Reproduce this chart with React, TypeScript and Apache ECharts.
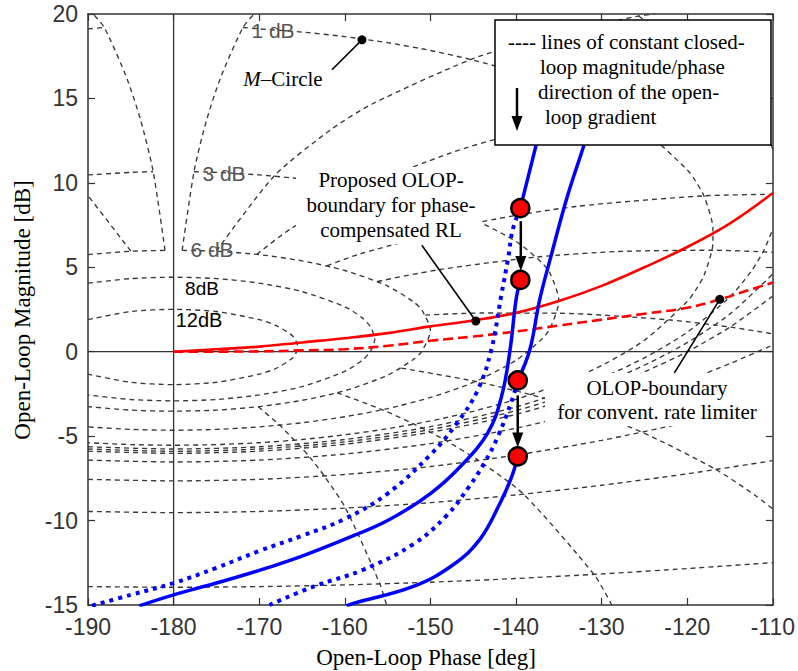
import React, { useEffect, useRef } from "react";
import * as echarts from "echarts";

// ---------- axes ----------
const phaseMin = -190, phaseMax = -110, phaseStep = 10;
const magMin = -15, magMax = 20, magStep = 5;

// ---------- closed-loop magnitude contours [phase deg, dB] ----------
const mag12dB = [[-190,1.90],[-185,2.38],[-180,2.51],[-175,2.38],[-170,1.90],[-168,1.54],[-166,0.89],[-165.5,0.29],[-166,-0.32],[-168,-0.98],[-170,-1.33],[-175,-1.81],[-180,-1.95],[-185,-1.81],[-190,-1.33]];
const mag8dB = [[-190,4.06],[-185,4.33],[-180,4.41],[-175,4.33],[-170,4.06],[-165,3.56],[-160,2.66],[-158,2.02],[-157,1.47],[-156.5,0.75],[-157,0.03],[-158,-0.52],[-160,-1.16],[-165,-2.07],[-170,-2.56],[-175,-2.83],[-180,-2.91],[-185,-2.83],[-190,-2.56]];
const mag6dBLeft = [[-190,5.75],[-185,5.95],[-181,6.0]];
const mag6dBRight = [[-179,6.0],[-175,5.95],[-170,5.75],[-165,5.38],[-160,4.81],[-155,3.89],[-152,2.96],[-151,2.47],[-150,1.25],[-151,0.03],[-152,-0.46],[-155,-1.39],[-160,-2.31],[-165,-2.88],[-170,-3.25],[-175,-3.46],[-180,-3.52],[-185,-3.46],[-190,-3.25]];
const mag3dBLeft = [[-190,10.47],[-185,10.62],[-182.4,10.66]];
const mag3dBRight = [[-177.6,10.66],[-175,10.62],[-170,10.47],[-165,10.23],[-160,9.87],[-155,9.39],[-150,8.73],[-145,7.84],[-140,6.53],[-137,5.28],[-136,4.62],[-135,3.01],[-136,1.40],[-137,0.74],[-140,-0.51],[-145,-1.82],[-150,-2.71],[-155,-3.37],[-160,-3.85],[-165,-4.21],[-170,-4.45],[-175,-4.60],[-180,-4.65],[-185,-4.60],[-190,-4.45]];
const mag1dBLeft = [[-190,19.12],[-188.1,19.2]];
const mag1dBRight = [[-171.9,19.2],[-170,19.12],[-165,18.93],[-160,18.66],[-155,18.30],[-150,17.84],[-145,17.27],[-140,16.56],[-135,15.67],[-130,14.55],[-125,13.06],[-120,10.77],[-119,10.08],[-118,9.17],[-117,7.28],[-117,6.46],[-118,4.57],[-119,3.66],[-120,2.97],[-125,0.68],[-130,-0.82],[-135,-1.94],[-140,-2.82],[-145,-3.53],[-150,-4.10],[-155,-4.56],[-160,-4.92],[-165,-5.20],[-170,-5.39],[-175,-5.50],[-180,-5.54],[-185,-5.50],[-190,-5.39]];
const mag05dBLower = [[-190,-5.63],[-180,-5.76],[-170,-5.63],[-160,-5.20],[-150,-4.44],[-140,-3.27],[-130,-1.54],[-125,-0.36],[-120,1.15],[-115,3.26],[-112.5,4.78],[-111,6.05],[-110,7.27]];
const mag05dBUpper = [[-110,12.0],[-111,13.23],[-112.5,14.49],[-115,16.01],[-120,18.12],[-125,19.64],[-127,20.38]];
const mag025dB = [[-190,-5.76],[-180,-5.90],[-170,-5.76],[-160,-5.34],[-150,-4.61],[-140,-3.49],[-130,-1.87],[-125,-0.80],[-120,0.54],[-115,2.24],[-110,4.60]];
const mag0dB = [[-190,-5.89],[-180,-6.02],[-170,-5.89],[-160,-5.48],[-150,-4.77],[-140,-3.71],[-130,-2.18],[-125,-1.19],[-120,0],[-115,1.46],[-110,3.30]];
const magM1dB = [[-190,-6.42],[-180,-6.53],[-170,-6.42],[-160,-6.06],[-150,-5.44],[-140,-4.53],[-130,-3.30],[-120,-1.68],[-115,-0.70],[-110,0.40]];
const magM3dB = [[-190,-7.56],[-180,-7.65],[-170,-7.56],[-160,-7.27],[-150,-6.80],[-140,-6.12],[-130,-5.25],[-120,-4.17],[-110,-2.90]];
const magM6dB = [[-190,-9.46],[-180,-9.53],[-170,-9.46],[-160,-9.26],[-150,-8.94],[-140,-8.48],[-130,-7.91],[-120,-7.23],[-110,-6.45]];
const magM12dB = [[-190,-13.91],[-180,-13.95],[-170,-13.91],[-160,-13.81],[-150,-13.65],[-140,-13.43],[-130,-13.16],[-120,-12.84],[-110,-12.49]];

// ---------- closed-loop phase contours ----------
const ph1 = [[-179,6.0],[-177.6,10.7],[-176.15,13.71],[-174.47,16.28],[-171.9,19.2],[-170.6,20]];
const ph359 = [[-181,6.0],[-182.4,10.7],[-183.85,13.71],[-185.53,16.28],[-188.1,19.2],[-189.4,20]];
const ph5 = [[-175.0,5.96],[-168.2,10.43],[-161.6,13.16],[-156.8,14.67],[-145.3,17.3],[-137.1,18.6],[-125.9,19.86],[-123.8,20]];
const ph355 = [[-185.0,5.96],[-191.8,10.43]];
const ph10 = [[-170.3,5.76],[-166.35,7.27],[-157.9,9.71],[-147.6,11.78],[-141.1,12.75],[-128.3,14.10],[-121.2,14.6],[-113.2,14.97],[-110,15.07]];
const ph20 = [[-162.1,5.08],[-158.3,5.78],[-144.1,7.68],[-133.0,8.60],[-118.1,9.23],[-110,9.32]];
const ph30 = [[-156.2,4.16],[-149.1,4.85],[-137.5,5.61],[-128.2,5.93],[-117.1,6.01],[-110,5.89]];
const ph50 = [[-150.6,2.17],[-144.1,2.29],[-135.1,2.28],[-122,1.88],[-115,1.46],[-110,1.06]];
const ph90 = [[-153.4,-0.97],[-144.7,-1.76],[-138.3,-2.54],[-135,-3.01],[-131.7,-3.54],[-125.3,-4.76],[-116.6,-6.99],[-111.8,-8.60],[-110,-9.32]];
const ph120 = [[-160.9,-2.43],[-155.6,-3.44],[-151.9,-4.29],[-150,-4.77],[-148.1,-5.29],[-144.4,-6.44],[-139.1,-8.45],[-130.9,-13.19],[-128.9,-14.91],[-128.8,-15.1]];
const ph150 = [[-170.1,-3.26],[-167.6,-4.36],[-165.9,-5.24],[-165,-5.72],[-164.1,-6.24],[-162.4,-7.36],[-159.9,-9.28],[-155.9,-13.76],[-154.9,-15.4]];

// ---------- reference lines ----------
const criticalPhase = [[-180,-15],[-180,20]];
const zeroDb = [[-190,0],[-110,0]];

// ---------- OLOP boundaries ----------
const olopPhaseCompensated = [[-180,0],[-175,0.15],[-170,0.3],[-165,0.55],[-160,0.8],[-155,1.1],[-150,1.5],[-145,1.85],[-140,2.3],[-135,3.0],[-130,3.9],[-125,5.0],[-120,6.2],[-115,7.6],[-110,9.4]];
const olopConventional = [[-180,0],[-170,0.02],[-165,0.08],[-160,0.15],[-155,0.35],[-150,0.65],[-145,0.9],[-140,1.2],[-135,1.55],[-130,1.9],[-125,2.25],[-120,2.6],[-116.2,3.1],[-113,3.62],[-110,4.1]];

// ---------- open-loop frequency responses ----------
const respAUpper = [[-136.3,15],[-137.6,12.35],[-139.5,8.5]];
const respADotted = [[-139.5,8.5],[-140.4,7.2],[-140.9,5.6],[-141.7,3.4],[-142.9,0.1],[-144.5,-2.3],[-147,-4.3],[-150,-6.1],[-155,-8.4],[-160,-9.9],[-165,-10.9],[-170,-11.8],[-175,-12.8],[-180,-13.7],[-185,-14.4],[-190,-15.1]];
const respALower = [[-139.5,4.25],[-140,3.07],[-140.7,0.1],[-141.7,-2.66],[-143.3,-4.8],[-146.5,-6.8],[-150,-8.4],[-155,-10.0],[-160,-11.1],[-165,-12.1],[-170,-12.95],[-175,-13.7],[-180,-14.4],[-184,-15.05]];
const respBUpper = [[-130.8,14.5],[-132,12.35],[-134,9.2],[-136,5.5],[-137.24,3.07],[-138.4,0.1],[-139.8,-1.7]];
const respBDotted = [[-139.8,-1.7],[-140.5,-2.9],[-142.1,-5.0],[-143.6,-6.5],[-145.5,-8.0],[-148.1,-9.7],[-152,-11.4],[-157.8,-12.9],[-163.6,-13.9],[-168.8,-15.0]];
const respBLower = [[-139.8,-6.2],[-140.5,-7.4],[-141.9,-9.0],[-144.2,-11.1],[-147.3,-12.6],[-152,-13.9],[-159,-14.9],[-159.8,-15.05]];

const onsetPoints = [[-139.5,8.5],[-139.5,4.25],[-139.8,-1.7],[-139.8,-6.2]];
const markerPoints = [[-158,18.47],[-144.7,1.82],[-116.2,3.1]];
const leaderEnds = [[-161.5,16.7],[-151.0,6.3],[-121.5,-1.25]];

export default function App() {
  const ref = useRef<HTMLDivElement>(null);
  useEffect(() => {
    const chart = echarts.init(ref.current!, null, { renderer: "svg" });
    const dash = { color: "#383838", width: 1.35, type: [5, 4] };
    const gridCurves = [mag12dB, mag8dB, mag6dBLeft, mag6dBRight, mag3dBLeft, mag3dBRight, mag1dBLeft, mag1dBRight,
      mag05dBLower, mag05dBUpper, mag025dB, mag0dB, magM1dB, magM3dB, magM6dB, magM12dB,
      ph1, ph359, ph5, ph355, ph10, ph20, ph30, ph50, ph90, ph120, ph150];
    const lineS = (data: number[][], lineStyle: any, z: number, smooth: number | boolean = false) => ({
      type: "line", data, symbol: "none", lineStyle, z, silent: true, clip: true, smooth, emphasis: { disabled: true },
    });
    const series: any[] = gridCurves.map((d) => lineS(d, dash, 1, 0.25));
    series.push(lineS(criticalPhase, { color: "#333", width: 1.3 }, 2));
    series.push(lineS(zeroDb, { color: "#333", width: 1.3 }, 2));
    series.push(lineS(olopPhaseCompensated, { color: "#ff0000", width: 2.6 }, 3, 0.4));
    series.push(lineS(olopConventional, { color: "#ff0000", width: 2.6, type: [10, 5] }, 3, 0.4));
    const blueSolid = { color: "#0000ff", width: 3.5 };
    const blueDot = { color: "#0000ff", width: 4, type: [4, 5] };
    series.push(lineS(respAUpper, blueSolid, 4, 0.4));
    series.push(lineS(respADotted, blueDot, 4, 0.4));
    series.push(lineS(respALower, blueSolid, 4, 0.4));
    series.push(lineS(respBUpper, blueSolid, 4, 0.4));
    series.push(lineS(respBDotted, blueDot, 4, 0.4));
    series.push(lineS(respBLower, blueSolid, 4, 0.4));
    series.push({ type: "scatter", data: onsetPoints, symbolSize: 18, z: 20, silent: true,
      itemStyle: { color: "#ff0000", borderColor: "#000", borderWidth: 2.5, opacity: 1 } });
    series.push({ type: "scatter", data: markerPoints, symbolSize: 9, z: 20, silent: true,
      itemStyle: { color: "#000", opacity: 1 } });

    const axisCommon = {
      type: "value", splitLine: { show: false },
      axisLine: { show: true, onZero: false, lineStyle: { color: "#333", width: 1.5 } },
      axisTick: { show: true, inside: true, length: 7, lineStyle: { color: "#333", width: 1.2 } },
    };
    const labelStyle = { color: "#333", fontSize: 23, fontFamily: "Liberation Sans", margin: 10, showMinLabel: true, showMaxLabel: true };
    chart.setOption({
      animation: false,
      grid: { left: 88, top: 14, right: 22, bottom: 66 },
      xAxis: [
        { ...axisCommon, position: "bottom", min: phaseMin, max: phaseMax, interval: phaseStep, axisLabel: labelStyle },
        { ...axisCommon, position: "top", min: phaseMin, max: phaseMax, interval: phaseStep, axisLabel: { show: false } },
      ],
      yAxis: [
        { ...axisCommon, position: "left", min: magMin, max: magMax, interval: magStep, axisLabel: labelStyle },
        { ...axisCommon, position: "right", min: magMin, max: magMax, interval: magStep, axisLabel: { show: false } },
      ],
      series,
    });

    const px = (p: number[]) => chart.convertToPixel({ xAxisIndex: 0, yAxisIndex: 0 }, p) as number[];
    const serif = '"Liberation Serif", "Times New Roman", serif';
    const sans = '"Liberation Sans", Arial, sans-serif';
    const g: any[] = [];
    const rect = (x: number, y: number, w: number, h: number, stroke?: string) =>
      g.push({ type: "rect", z: 10, shape: { x, y, width: w, height: h },
        style: { fill: "#fff", stroke: stroke || "none", lineWidth: stroke ? 1.5 : 0 } });
    const text = (t: string, x: number, y: number, font: string, fill = "#000", align = "center") =>
      g.push({ type: "text", z: 12, x, y, style: { text: t, font, fill, align, verticalAlign: "middle" } });
    const arrow = (x: number, y1: number, tip: number) => {
      g.push({ type: "line", z: 12, shape: { x1: x, y1, x2: x, y2: tip - 12 }, style: { stroke: "#000", lineWidth: 2.5 } });
      g.push({ type: "polygon", z: 12, shape: { points: [[x - 5.5, tip - 15], [x + 5.5, tip - 15], [x, tip]] }, style: { fill: "#000" } });
    };

    // white backgrounds of annotations
    rect(296, 167, 186, 77);
    rect(545, 373, 226, 53);
    rect(240, 68, 86, 22);
    rect(495, 20, 276, 125, "#000");

    // legend box
    const lf = `21px ${serif}`;
    text("---- lines of constant closed-", 508, 42, lf, "#000", "left");
    text("loop magnitude/phase", 540, 67, lf, "#000", "left");
    text("direction of the open-", 538, 92, lf, "#000", "left");
    text("loop gradient", 545, 117, lf, "#000", "left");
    arrow(517, 88, 131);

    // annotations
    text("Proposed OLOP-", 391, 180, lf);
    text("boundary for phase-", 391, 205, lf);
    text("compensated RL", 391, 230, lf);
    text("OLOP-boundary", 657, 388, lf);
    text("for convent. rate limiter", 657, 412, lf);
    g.push({ type: "text", z: 12, x: 283, y: 79, style: { text: "{i|M}–Circle", font: lf, fill: "#000", align: "center", verticalAlign: "middle",
      rich: { i: { font: `italic 21px ${serif}`, fill: "#000" } } } });

    // leader lines
    markerPoints.forEach((p, i) => {
      const a = px(p), b = px(leaderEnds[i]);
      g.push({ type: "line", z: 12, shape: { x1: a[0], y1: a[1], x2: b[0], y2: b[1] }, style: { stroke: "#000", lineWidth: 1.6 } });
    });

    // gradient arrows between onset points
    const d = onsetPoints.map(px);
    arrow(d[0][0] + 0.5, d[0][1] + 13, d[1][1] - 9);
    arrow(d[2][0], d[2][1] + 15, d[3][1] - 9);

    // contour labels
    text("1 dB", 273, 30, `21px ${sans}`, "#555");
    text("3 dB", 224, 173, `21px ${sans}`, "#555");
    text("6 dB", 212, 249, `21px ${sans}`, "#555");
    text("8dB", 202, 288, `19px ${sans}`, "#000");
    text("12dB", 199, 320, `20px ${sans}`, "#000");

    // axis titles
    text("Open-Loop Phase [deg]", 426, 657, `23px ${serif}`);
    g.push({ type: "text", z: 12, x: 22, y: 310, rotation: Math.PI / 2,
      style: { text: "Open-Loop Magnitude [dB]", font: `23px ${serif}`, fill: "#000", align: "center", verticalAlign: "middle" } });

    chart.setOption({ graphic: g });
    return () => chart.dispose();
  }, []);
  return <div ref={ref} style={{ position: "fixed", left: 0, top: 0, width: 798, height: 671, background: "#fff" }} />;
}
